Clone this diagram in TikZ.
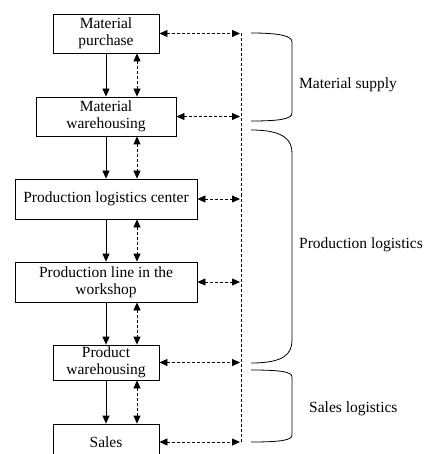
\documentclass[tikz,border=0pt]{standalone}
\usepackage{fontspec}
\setmainfont{Liberation Serif}
\usetikzlibrary{arrows.meta}
\begin{document}
\begin{tikzpicture}[x=1pt,y=-1pt,
  font=\fontsize{15.5}{17}\selectfont,
  box/.style={draw,line width=0.8pt,inner sep=0pt,align=center},
  flow/.style={line width=0.8pt,-{Triangle[length=8pt,width=7pt]}},
  link/.style={line width=0.8pt,dash pattern=on 3pt off 2pt,
    {Triangle[length=8pt,width=7pt]}-{Triangle[length=8pt,width=7pt]}},
  bus/.style={line width=0.8pt,dash pattern=on 3pt off 2pt},
  bracket/.style={line width=0.8pt},
  group/.style={anchor=west,inner sep=0pt}]
\clip (0,0) rectangle (427,454);

% process chain
\node[box,minimum width=106pt,minimum height=39pt] (m1) at (106,33.5) {Material\\purchase};
\node[box,minimum width=140pt,minimum height=39pt] (m2) at (106,116.5) {Material\\warehousing};
\node[box,minimum width=182pt,minimum height=40pt] (m3) at (106,199) {Production logistics center};
\node[box,minimum width=182pt,minimum height=40pt] (m4) at (106,282) {Production line in the\\workshop};
\node[box,minimum width=106pt,minimum height=35pt] (m5) at (106,362.5) {Product\\warehousing};
\node[box,minimum width=106pt,minimum height=36pt] (m6) at (106,442) {Sales};

% information bus on the right
\coordinate (b1) at (240,33.5);
\coordinate (b2) at (240,116.5);
\coordinate (b3) at (240,199);
\coordinate (b4) at (240,282);
\coordinate (b5) at (240,362.5);
\coordinate (b6) at (240,442);
\draw[bus] ([xshift=1pt]b1) -- ([xshift=1pt]b6);

\foreach \i/\j in {1/2,2/3,3/4,4/5,5/6}{
  \draw[flow] (m\i.south) -- (m\j.north);
  \draw[link] ([xshift=31pt]m\i.south) -- ([xshift=31pt]m\j.north);
}
\foreach \i in {1,...,6}{
  \draw[link] (m\i.east) -- (b\i);
}

% grouping brackets
\draw[bracket] (251,33) .. controls (280,33) and (292,36) .. (292,42)
  -- (292,113) .. controls (292,119) and (280,121) .. (251,121);
\draw[bracket] (251,130) .. controls (284,130) and (292,140) .. (292,153)
  -- (292,340) .. controls (292,354) and (284,363) .. (251,363);
\draw[bracket] (251,370) .. controls (282,370) and (292,372) .. (292,377)
  -- (292,435) .. controls (292,440) and (282,442) .. (251,442);

\node[group] (g1) at (299,85) {Material supply};
\node[group] (g2) at (299,245) {Production logistics};
\node[group] (g3) at (309,409) {Sales logistics};
\end{tikzpicture}
\end{document}
